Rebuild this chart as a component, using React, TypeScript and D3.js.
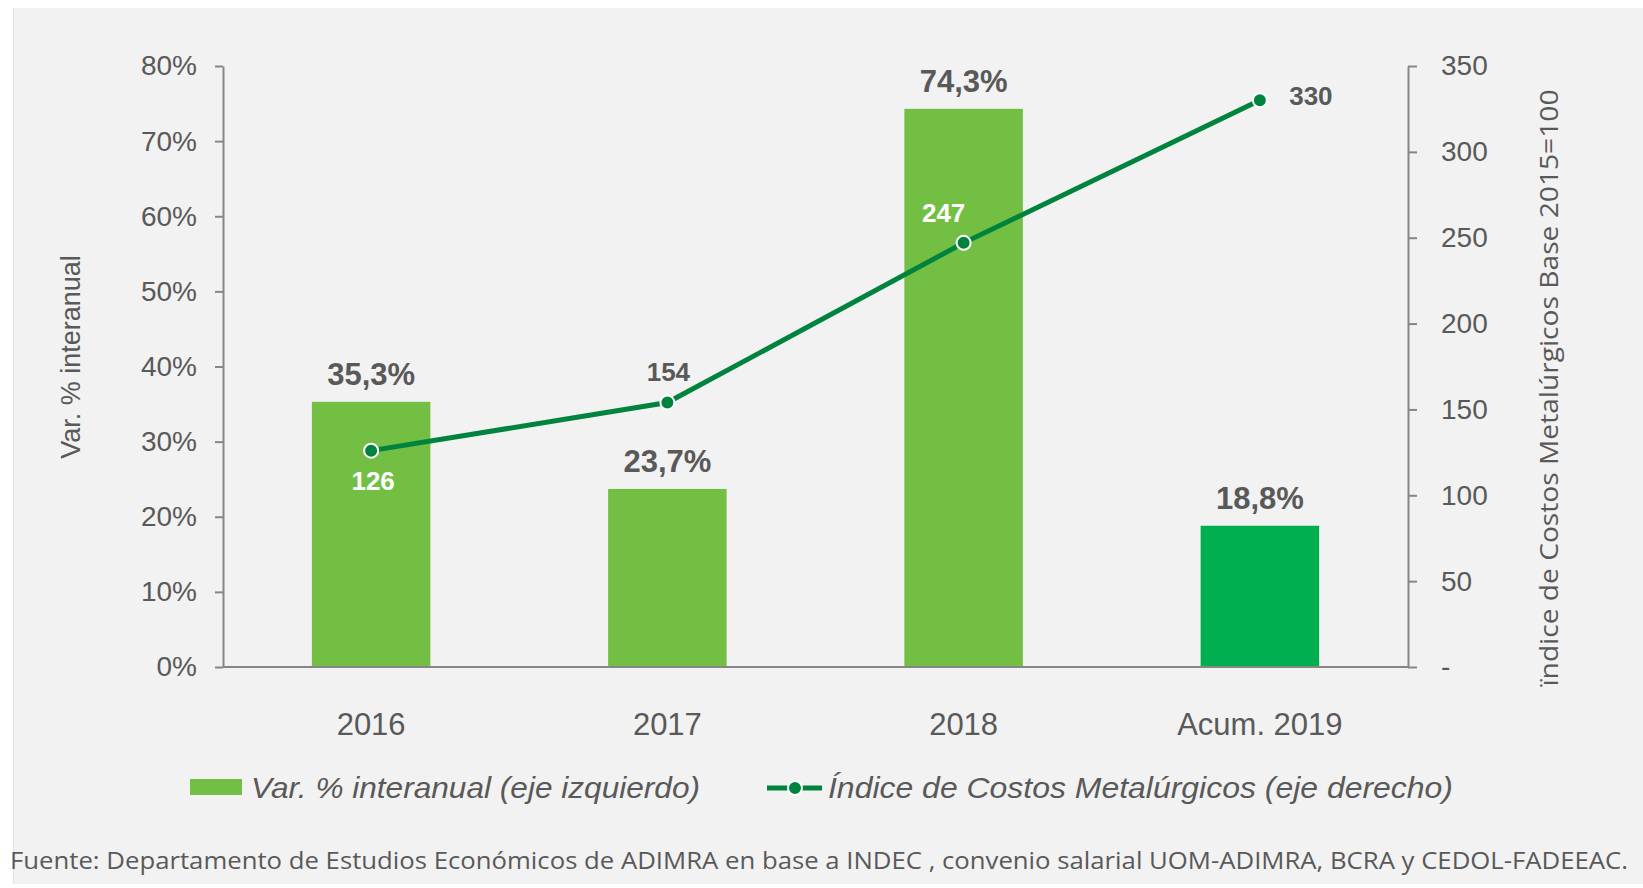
import { useEffect, useRef } from 'react';
import * as d3 from 'd3';

const categories = ['2016', '2017', '2018', 'Acum. 2019'];
const varInteranual = [35.3, 23.7, 74.3, 18.8];
const indiceCostos = [126, 154, 247, 330];
const leftTicks = [0, 10, 20, 30, 40, 50, 60, 70, 80];
const rightTicks = [0, 50, 100, 150, 200, 250, 300, 350];

const W = 1643;
const H = 888;
const PLOT = { left: 223, right: 1408, top: 66, bottom: 667 };

const C = {
  panel: '#f2f2f2',
  bar: '#72bf44',
  barLast: '#00b050',
  line: '#00843d',
  text: '#595959',
  axis: '#868686',
};
const ARIAL = "'Liberation Sans', Arial, sans-serif";
const NARROW = "'Liberation Sans Narrow', 'Open Sans', sans-serif";

// where each line label sits relative to its dot: dx, dy (baseline), color
const lineLabelPos = [
  { dx: 2, dy: 39, fill: '#ffffff' },
  { dx: 1, dy: -22, fill: C.text },
  { dx: -20, dy: -21, fill: '#ffffff' },
  { dx: 51, dy: 5, fill: C.text },
];

export default function App() {
  const ref = useRef<SVGSVGElement>(null);

  useEffect(() => {
    const svg = d3.select(ref.current);
    svg.selectAll('*').remove();

    // Panel
    svg.append('rect').attr('x', 13).attr('y', 8).attr('width', W - 13).attr('height', H - 12)
      .attr('fill', C.panel);
    svg.append('line').attr('x1', 13.5).attr('x2', 13.5).attr('y1', 8).attr('y2', H - 4)
      .attr('stroke', '#e2e2e2').attr('stroke-width', 1);

    const x = d3.scaleBand<string>()
      .domain(categories)
      .range([PLOT.left, PLOT.right])
      .paddingInner(0.6)
      .paddingOuter(0.3);
    const yL = d3.scaleLinear().domain([0, 80]).range([PLOT.bottom, PLOT.top]);
    const yR = d3.scaleLinear().domain([0, 350]).range([PLOT.bottom, PLOT.top]);

    // Bars
    svg.append('g').selectAll('rect')
      .data(varInteranual)
      .enter()
      .append('rect')
      .attr('x', (_, i) => x(categories[i])!)
      .attr('width', x.bandwidth())
      .attr('y', (d) => yL(d))
      .attr('height', (d) => PLOT.bottom - yL(d))
      .attr('fill', (_, i) => (i === categories.length - 1 ? C.barLast : C.bar));

    // Bar labels
    svg.append('g').selectAll('text')
      .data(varInteranual)
      .enter()
      .append('text')
      .attr('x', (_, i) => x(categories[i])! + x.bandwidth() / 2)
      .attr('y', (d) => yL(d) - 17)
      .attr('text-anchor', 'middle')
      .attr('fill', C.text)
      .attr('font-family', ARIAL)
      .attr('font-weight', 'bold')
      .attr('font-size', '31px')
      .text((d) => `${d.toFixed(1).replace('.', ',')}%`);

    // Left axis
    const gL = svg.append('g').attr('transform', `translate(${PLOT.left},0)`)
      .call(d3.axisLeft(yL).tickValues(leftTicks).tickSize(8).tickSizeOuter(0).tickPadding(18)
        .tickFormat((d) => `${d}%`));
    gL.select('.domain').attr('stroke', C.axis).attr('stroke-width', 2);
    gL.selectAll('line').attr('stroke', C.axis).attr('stroke-width', 2);
    gL.selectAll('text').attr('fill', C.text).attr('font-size', '28px').attr('font-family', ARIAL);

    // Right axis
    const gR = svg.append('g').attr('transform', `translate(${PLOT.right},0)`)
      .call(d3.axisRight(yR).tickValues(rightTicks).tickSize(9).tickSizeOuter(0).tickPadding(24)
        .tickFormat((d) => (d === 0 ? '-' : `${d}`)));
    gR.select('.domain').attr('stroke', C.axis).attr('stroke-width', 2);
    gR.selectAll('line').attr('stroke', C.axis).attr('stroke-width', 2);
    gR.selectAll('text').attr('fill', C.text).attr('font-size', '28px').attr('font-family', ARIAL);

    // X axis baseline + category labels
    svg.append('line')
      .attr('x1', PLOT.left).attr('x2', PLOT.right)
      .attr('y1', PLOT.bottom).attr('y2', PLOT.bottom)
      .attr('stroke', C.axis).attr('stroke-width', 2);
    svg.append('g').selectAll('text')
      .data(categories)
      .enter()
      .append('text')
      .attr('x', (d) => x(d)! + x.bandwidth() / 2)
      .attr('y', 735)
      .attr('text-anchor', 'middle')
      .attr('fill', C.text)
      .attr('font-family', ARIAL)
      .attr('font-size', '31px')
      .text((d) => d);

    // Line series
    const pts = indiceCostos.map((v, i) => ({ cx: x(categories[i])! + x.bandwidth() / 2, cy: yR(v), v }));
    const line = d3.line<{ cx: number; cy: number }>().x((d) => d.cx).y((d) => d.cy);
    svg.append('path').datum(pts).attr('d', line)
      .attr('fill', 'none').attr('stroke', C.line).attr('stroke-width', 5);
    svg.append('g').selectAll('circle')
      .data(pts)
      .enter()
      .append('circle')
      .attr('cx', (d) => d.cx).attr('cy', (d) => d.cy).attr('r', 7)
      .attr('fill', C.line).attr('stroke', '#ffffff').attr('stroke-width', 2);
    svg.append('g').selectAll('text')
      .data(pts)
      .enter()
      .append('text')
      .attr('x', (d, i) => d.cx + lineLabelPos[i].dx)
      .attr('y', (d, i) => d.cy + lineLabelPos[i].dy)
      .attr('text-anchor', 'middle')
      .attr('fill', (_, i) => lineLabelPos[i].fill)
      .attr('font-family', ARIAL)
      .attr('font-weight', 'bold')
      .attr('font-size', '26px')
      .text((d) => d.v);

    // Axis titles
    svg.append('text')
      .attr('transform', 'translate(80,357) rotate(-90)')
      .attr('text-anchor', 'middle')
      .attr('fill', C.text)
      .attr('font-family', ARIAL)
      .attr('font-size', '27px')
      .text('Var. % interanual');
    svg.append('text')
      .attr('transform', 'translate(1558,388) rotate(-90)')
      .attr('text-anchor', 'middle')
      .attr('fill', C.text)
      .attr('font-family', NARROW)
      .attr('font-size', '26px')
      .attr('textLength', 597)
      .attr('lengthAdjust', 'spacingAndGlyphs')
      .text('ïndice de Costos Metalúrgicos  Base 2015=100');

    // Legend
    const leg = svg.append('g');
    leg.append('rect').attr('x', 190).attr('y', 779).attr('width', 52).attr('height', 16).attr('fill', C.bar);
    leg.append('text').attr('x', 251).attr('y', 798)
      .attr('fill', C.text).attr('font-family', ARIAL).attr('font-style', 'italic').attr('font-size', '29px')
      .attr('textLength', 449).attr('lengthAdjust', 'spacingAndGlyphs')
      .text('Var. % interanual (eje izquierdo)');
    leg.append('line').attr('x1', 767).attr('x2', 822).attr('y1', 788).attr('y2', 788)
      .attr('stroke', C.line).attr('stroke-width', 5);
    leg.append('circle').attr('cx', 795).attr('cy', 788).attr('r', 7)
      .attr('fill', C.line).attr('stroke', '#ffffff').attr('stroke-width', 2);
    leg.append('text').attr('x', 828).attr('y', 798)
      .attr('fill', C.text).attr('font-family', ARIAL).attr('font-style', 'italic').attr('font-size', '29px')
      .attr('textLength', 625).attr('lengthAdjust', 'spacingAndGlyphs')
      .text('Índice de Costos Metalúrgicos (eje derecho)');

    // Source
    svg.append('text').attr('x', 10).attr('y', 869)
      .attr('fill', C.text).attr('font-family', NARROW).attr('font-size', '24px')
      .attr('textLength', 1618).attr('lengthAdjust', 'spacingAndGlyphs')
      .text('Fuente: Departamento de Estudios Económicos de ADIMRA en base a INDEC , convenio salarial UOM-ADIMRA, BCRA y  CEDOL-FADEEAC.');
  }, []);

  return (
    <div style={{ position: 'absolute', left: 0, top: 0, width: W, height: H, background: '#ffffff' }}>
      <svg ref={ref} width={W} height={H} />
    </div>
  );
}
